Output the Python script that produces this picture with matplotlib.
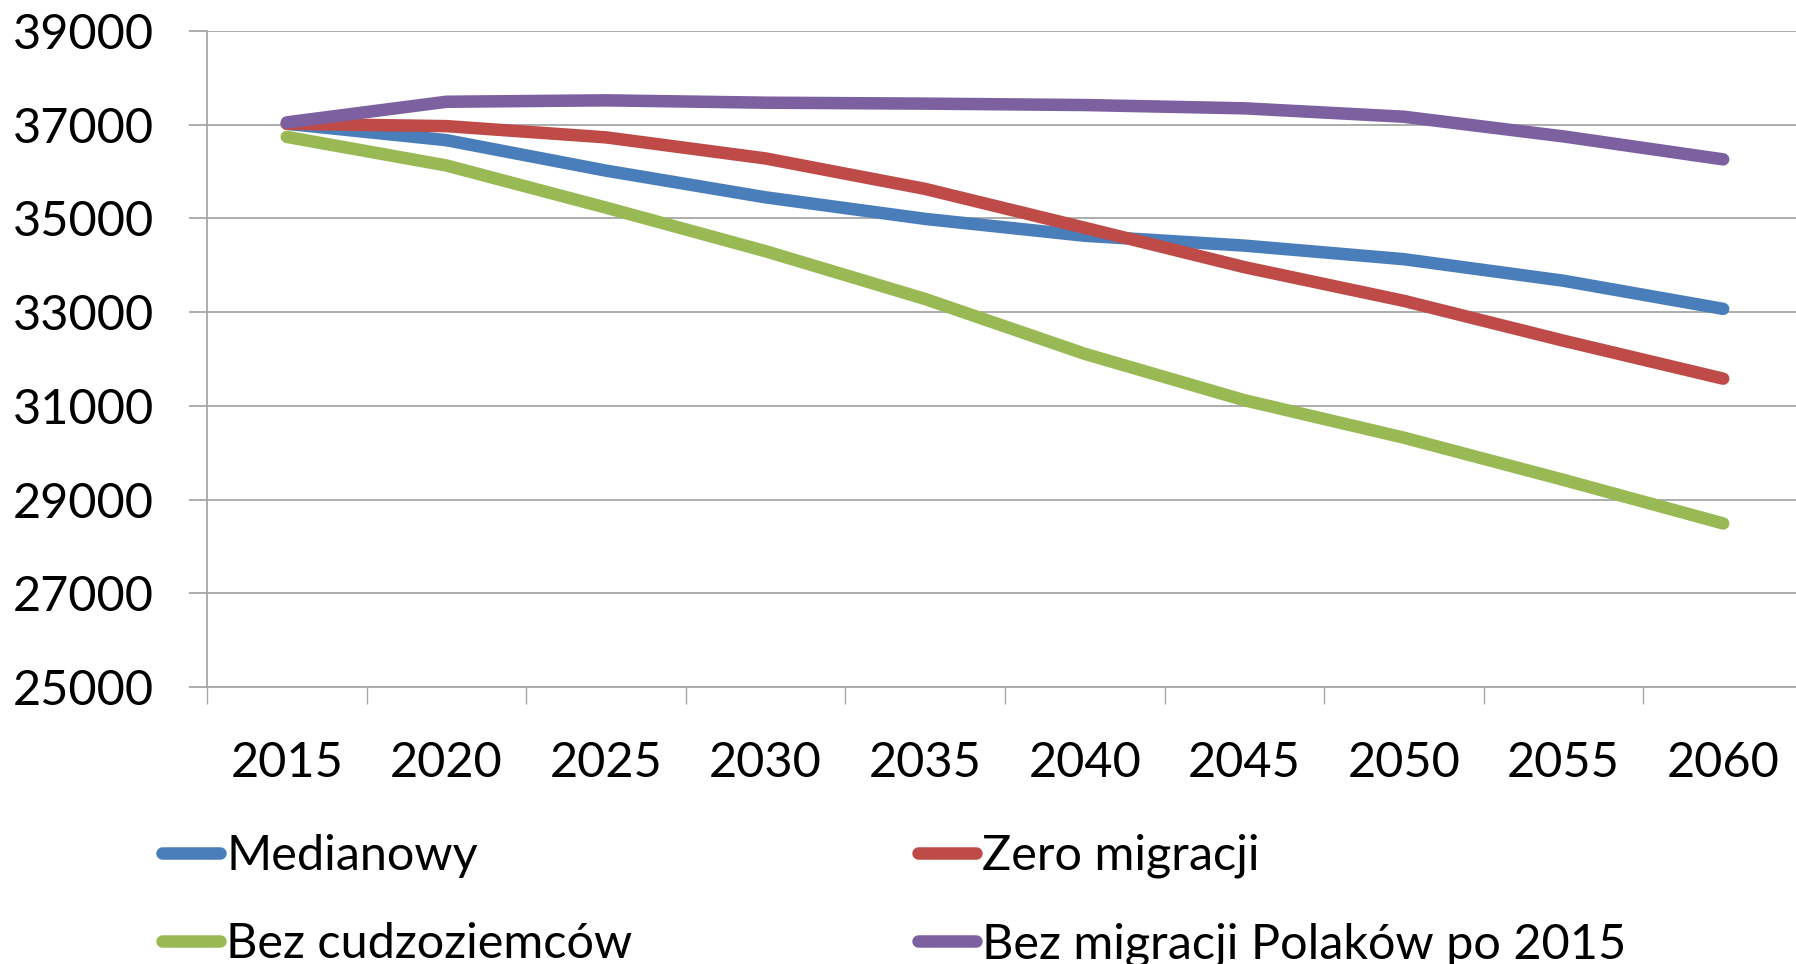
import matplotlib
matplotlib.use("Agg")
import matplotlib.pyplot as plt
import numpy as np

years = [2015, 2020, 2025, 2030, 2035, 2040, 2045, 2050, 2055, 2060]
medianowy = [37020, 36670, 36020, 35450, 34990, 34630, 34420, 34130, 33670, 33070]
zero_migracji = [37020, 36970, 36730, 36280, 35630, 34800, 33960, 33240, 32390, 31580]
bez_cudzoziemcow = [36740, 36130, 35230, 34300, 33280, 32110, 31120, 30320, 29420, 28490]
bez_migracji_polakow = [37050, 37490, 37520, 37470, 37450, 37420, 37350, 37170, 36750, 36260]

labels = ["Medianowy", "Zero migracji", "Bez cudzoziemców", "Bez migracji Polaków po 2015"]
colors = ["#4A7EBB", "#BE4B48", "#98B954", "#7D60A0"]
yticks = [25000, 27000, 29000, 31000, 33000, 35000, 37000, 39000]

plt.rcParams["font.family"] = ["Lato", "DejaVu Sans"]

W, H = 1796, 964
fig = plt.figure(figsize=(W / 100, H / 100), dpi=100)
ax = fig.add_axes([207 / W, 1 - 687 / H, 1596 / W, (687 - 31) / H])

x = np.arange(len(years))
series = [medianowy, zero_migracji, bez_cudzoziemcow, bez_migracji_polakow]
lines = []
for vals, c, lab in zip(series, colors, labels):
    ln, = ax.plot(x, vals, color=c, lw=9, solid_capstyle="round",
                  solid_joinstyle="round", label=lab)
    lines.append(ln)

ax.set_xlim(-0.5, len(years) - 0.5)
ax.set_ylim(25000, 39000)
ax.set_yticks(yticks)
ax.set_yticklabels([str(v) for v in yticks])
ax.grid(axis="y", color="#A6A6A6", lw=1.3)
ax.set_axisbelow(True)

# category boundaries as major ticks, labels on minor ticks at centers
ax.set_xticks(np.arange(len(years) + 1) - 0.5)
ax.set_xticklabels([])
ax.set_xticks(x, minor=True)
ax.set_xticklabels([str(y) for y in years], minor=True)
ax.tick_params(axis="x", which="major", length=12, width=1, color="#A6A6A6")
ax.tick_params(axis="x", which="minor", length=0, pad=39, labelsize=35)
ax.tick_params(axis="y", length=13, width=1.3, color="#A6A6A6", pad=25, labelsize=35)

for s in ["top", "right"]:
    ax.spines[s].set_visible(False)
for s in ["left", "bottom"]:
    ax.spines[s].set_color("#A6A6A6")
    ax.spines[s].set_linewidth(1.3)

leg_kw = dict(frameon=False, fontsize=35, handlelength=1.2, handletextpad=0.12,
              labelspacing=0.9, borderpad=0, borderaxespad=0, loc="upper left")
leg1 = fig.legend([lines[0], lines[2]], [labels[0], labels[2]],
                  bbox_to_anchor=(162 / W, 1 - 834 / H), **leg_kw)
leg2 = fig.legend([lines[1], lines[3]], [labels[1], labels[3]],
                  bbox_to_anchor=(918 / W, 1 - 834 / H), **leg_kw)

fig.savefig("out.png", dpi=100)
